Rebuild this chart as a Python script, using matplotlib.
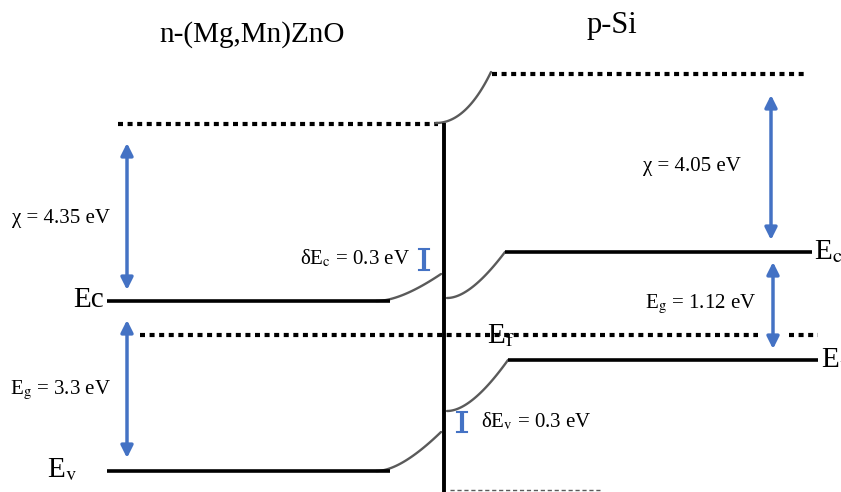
import matplotlib.pyplot as plt
import numpy as np

plt.rcParams['font.family'] = ['Liberation Serif', 'DejaVu Serif']
plt.rcParams['mathtext.fontset'] = 'stix'

# band diagram levels (in picture units, y grows downward)
junction_x = 444
left_x = [107, 390]      # ZnO side level lines
right_x = [505, 812]     # Si side level lines

vac_left = 124
vac_right = 74
ec_left = 301
ev_left = 471
ec_right = 252
ev_right = 360
ef_level = 335

# band bending curves: start, end, how long it stays flat
bends = [
    ((436, 123), (491, 72), 0.55),   # vacuum
    ((376, 301), (441, 274), 0.38),  # left Ec
    ((376, 471), (441, 432), 0.38),  # left Ev
    ((447, 298), (505, 252), 0.4),   # right Ec
    ((447, 411), (508, 360), 0.4),   # right Ev
]

blue = '#4472C4'
grey = '#5a5a5a'

fig = plt.figure(figsize=(8.41, 4.92), dpi=100)
ax = fig.add_axes([0, 0, 1, 1])
ax.set_xlim(0, 841)
ax.set_ylim(492, 0)
ax.axis('off')

dots = dict(color='black', lw=3, linestyle=(0, (1.2, 1.1)), dash_capstyle='butt')

# vacuum levels
ax.plot([118, 438], [vac_left, vac_left], **dots)
ax.plot([492, 808], [vac_right, vac_right], **dots)

# fermi level
ax.plot([140, 758], [ef_level, ef_level], **dots)
ax.plot([789, 818], [ef_level, ef_level], **dots)

def bezier(p0, p1, frac):
    c = (p0[0] + frac * (p1[0] - p0[0]), p0[1])
    t = np.linspace(0, 1, 60)
    x = (1 - t)**2 * p0[0] + 2 * (1 - t) * t * c[0] + t**2 * p1[0]
    y = (1 - t)**2 * p0[1] + 2 * (1 - t) * t * c[1] + t**2 * p1[1]
    return x, y

for p0, p1, fr in bends:
    bx, by = bezier(p0, p1, fr)
    ax.plot(bx, by, color=grey, lw=1.7, solid_capstyle='round')

# band edges
ax.plot(left_x, [ec_left, ec_left], color='black', lw=2.6, solid_capstyle='butt')
ax.plot(left_x, [ev_left, ev_left], color='black', lw=2.6, solid_capstyle='butt')
ax.plot(right_x, [ec_right, ec_right], color='black', lw=2.6, solid_capstyle='butt')
ax.plot([508, 818], [ev_right, ev_right], color='black', lw=2.6, solid_capstyle='butt')

# junction
ax.plot([junction_x, junction_x], [123, 492], color='black', lw=2.8, solid_capstyle='butt')
ax.plot([450, 600], [490, 490], color=grey, lw=1, linestyle=(0, (3, 2)))

# double arrows
arrows = [(127, 143, 290), (127, 320, 458), (771, 95, 240), (773, 262, 349)]
for ax_x, y0, y1 in arrows:
    ax.annotate('', xy=(ax_x, y0), xytext=(ax_x, y1),
                arrowprops=dict(arrowstyle='<|-|>', color=blue, lw=2.5,
                                mutation_scale=18, shrinkA=0, shrinkB=0))

# small offset markers
for mx, y0, y1 in [(424, 249, 270), (462, 412, 432)]:
    ax.plot([mx, mx], [y0, y1], color=blue, lw=3, solid_capstyle='butt')
    ax.plot([mx - 5, mx + 5], [y0, y0], color=blue, lw=1.5)
    ax.plot([mx - 5, mx + 5], [y1, y1], color=blue, lw=1.5)

# text
ax.text(252, 35, 'n-(Mg,Mn)ZnO', fontsize=21, ha='center', va='center')
ax.text(612, 25, 'p-Si', fontsize=22, ha='center', va='center')

ax.text(12, 218, 'χ = 4.35 eV', fontsize=15, ha='left', va='center')
ax.text(104, 300, 'Ec', fontsize=21, ha='right', va='center')
ax.text(10, 390, r'E$_\mathrm{g}$ = 3.3 eV', fontsize=15, ha='left', va='center')
ax.text(47, 470, r'E$_\mathrm{v}$', fontsize=21, ha='left', va='center')
ax.text(410, 258, r'δE$_\mathrm{c}$ = 0.3 eV', fontsize=15, ha='right', va='center')
ax.text(643, 166, 'χ = 4.05 eV', fontsize=15, ha='left', va='center')
ax.text(814, 252, r'E$_\mathrm{c}$', fontsize=21, ha='left', va='center')
ax.text(645, 304, r'E$_\mathrm{g}$ = 1.12 eV', fontsize=15, ha='left', va='center')
ax.text(821, 360, r'E$_\mathrm{v}$', fontsize=21, ha='left', va='center')
ax.text(487, 336, r'E$_\mathrm{f}$', fontsize=21, ha='left', va='center')
ax.text(481, 421, r'δE$_\mathrm{v}$ = 0.3 eV', fontsize=15, ha='left', va='center')

fig.savefig('out.png', dpi=100)
